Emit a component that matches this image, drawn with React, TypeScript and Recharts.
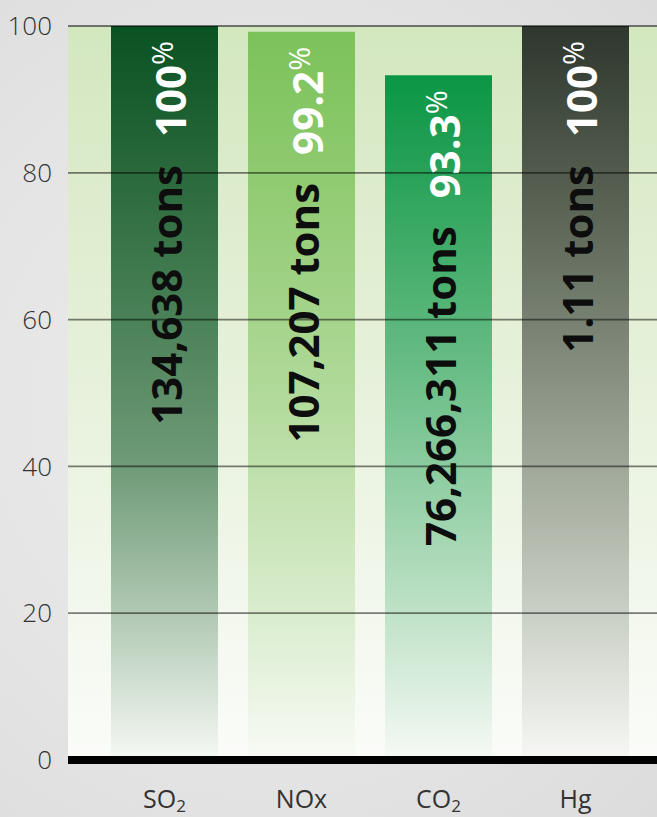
import React from 'react';
import { BarChart, Bar, XAxis, YAxis, CartesianGrid, ReferenceLine, LabelList, Cell } from 'recharts';

const pollutants = ['SO2', 'NOx', 'CO2', 'Hg'];
const reductionPct = [100, 99.2, 93.3, 100];
const tonsRemoved = ['134,638', '107,207', '76,266,311', '1.11'];
const barColors = ['#0a5222', '#7cc25a', '#0b9646', '#2f372e'];
const yTicks = [0, 20, 40, 60, 80, 100];
const gridLevels = [20, 40, 60, 80, 100];

const chartData = pollutants.map((name, i) => ({ name, pct: reductionPct[i] }));

const FONT = "'Open Sans', 'DejaVu Sans', sans-serif";

// category ticks with subscript digits (SO2 -> SO₂)
const PollutantTick = (props: any) => {
  const { x, y, payload } = props;
  const m = /^(\D+)(\d)$/.exec(payload.value);
  return (
    <text x={x} y={y + 48} textAnchor="middle" fill="#333" fontSize={25} fontFamily={FONT}>
      {m ? (
        <>
          <tspan>{m[1]}</tspan>
          <tspan fontSize={17} dy={4}>{m[2]}</tspan>
        </>
      ) : (
        payload.value
      )}
    </text>
  );
};

const BarLabel = (props: any) => {
  const vb = props.viewBox || {};
  const x = props.x ?? vb.x;
  const y = props.y ?? vb.y;
  const width = props.width ?? vb.width;
  const i = pollutants.indexOf(props.value);
  if (i < 0) return null;
  const px = x + width / 2 + 17;
  const py = y + 15;
  return (
    <text
      transform={`translate(${px},${py}) rotate(-90)`}
      textAnchor="end"
      fontFamily={FONT}
      fontWeight={700}
      fontSize={42}
    >
      <tspan fill="#0d0d0d">{tonsRemoved[i]} tons</tspan>
      <tspan fill="#fff" dx={28} dy={4}>{String(reductionPct[i])}</tspan>
      <tspan fill="#fff" fontWeight={400} fontSize={29} dy={-13}>%</tspan>
    </text>
  );
};

export default function App() {
  return (
    <div
      style={{
        position: 'absolute',
        left: 0,
        top: 0,
        width: 657,
        height: 817,
        overflow: 'hidden',
        background: 'radial-gradient(ellipse at 40% 50%, #ececec 0%, #e4e4e4 60%, #dcdcdc 100%)',
      }}
    >
      <BarChart
        width={700}
        height={817}
        data={chartData}
        margin={{ top: 26, right: 0, bottom: 0, left: 0 }}
        barCategoryGap={15}
      >
        <defs>
          <linearGradient id="plotBg" x1="0" y1="0" x2="0" y2="1">
            <stop offset="0%" stopColor="#d3e7bf" />
            <stop offset="100%" stopColor="#fbfcf9" />
          </linearGradient>
          {barColors.map((c, i) => (
            <linearGradient key={i} id={`barGrad${i}`} x1="0" y1="0" x2="0" y2="1">
              <stop offset="0%" stopColor={c} stopOpacity={1} />
              <stop offset="60%" stopColor={c} stopOpacity={i === 0 ? 0.55 : 0.4} />
              <stop offset="100%" stopColor={c} stopOpacity={0.02} />
            </linearGradient>
          ))}
        </defs>
        <CartesianGrid fill="url(#plotBg)" horizontal={false} vertical={false} stroke="none" />
        <XAxis
          dataKey="name"
          height={57}
          tickLine={false}
          axisLine={false}
          tickSize={0}
          tickMargin={0}
          padding={{ left: 28, right: 56 }}
          tick={<PollutantTick />}
          interval={0}
        />
        <YAxis
          width={68}
          domain={[0, 100]}
          ticks={yTicks}
          tickLine={false}
          axisLine={false}
          tickSize={0}
          tickMargin={16}
          tick={{ fill: '#333', fontSize: 26, fontFamily: FONT, fontWeight: 300 }}
        />
        <Bar dataKey="pct" isAnimationActive={false}>
          {chartData.map((d, i) => (
            <Cell key={d.name} fill={`url(#barGrad${i})`} />
          ))}
          <LabelList dataKey="name" content={<BarLabel />} />
        </Bar>
        {gridLevels.map((v) => (
          <ReferenceLine key={v} y={v} stroke="rgba(0,0,0,0.5)" strokeWidth={1.8} />
        ))}
        <ReferenceLine y={0} stroke="#000" strokeWidth={8} />
      </BarChart>
    </div>
  );
}
